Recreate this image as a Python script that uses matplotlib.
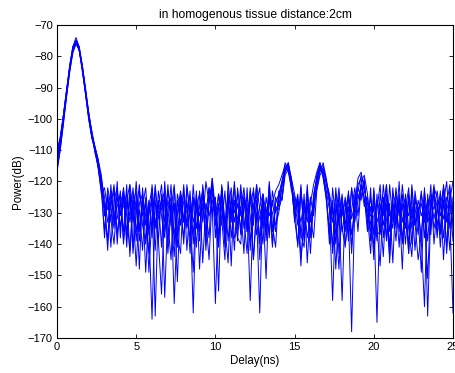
import numpy as np
import matplotlib
matplotlib.use("Agg")
import matplotlib.pyplot as plt

# delay axis, 0..25 ns sampled every 0.2 ns
delay_ns = np.linspace(0, 25, 126)

trace_1 = [-112, -107, -99, -91, -83, -77, -75, -78, -84, -92,
           -99, -105, -109, -114, -120, -131, -124, -141, -126, -122,
           -135, -125, -138, -121, -129, -147, -127, -124, -139, -130,
           -125, -163, -128, -121, -136, -126, -131, -144, -124, -129,
           -138, -122, -130, -126, -141, -123, -133, -120, -127, -119,
           -129, -137, -121, -133, -125, -128, -142, -122, -131, -126,
           -136, -124, -134, -121, -129, -140, -125, -131, -127, -123,
           -121, -118, -115, -117, -122, -131, -126, -138, -124, -146,
           -127, -121, -117, -114, -118, -126, -135, -128, -140, -124,
           -131, -125, -137, -129, -122, -131, -120, -118, -124, -134,
           -128, -139, -124, -131, -121, -136, -127, -133, -125, -140,
           -129, -122, -135, -126, -131, -123, -138, -127, -124, -132,
           -126, -136, -121, -129, -142, -125]
trace_2 = [-115, -109, -101, -92, -84, -78, -75, -77, -83, -91,
           -98, -104, -110, -115, -122, -127, -142, -123, -133, -128,
           -124, -139, -127, -131, -122, -136, -129, -142, -125, -149,
           -131, -126, -139, -124, -157, -129, -125, -137, -130, -123,
           -132, -127, -143, -125, -129, -136, -124, -130, -122, -128,
           -159, -127, -134, -123, -139, -126, -130, -124, -137, -128,
           -125, -131, -145, -127, -122, -135, -128, -138, -123, -130,
           -126, -120, -114, -116, -121, -127, -141, -124, -130, -128,
           -137, -124, -119, -115, -117, -123, -129, -158, -127, -132,
           -124, -136, -128, -141, -126, -121, -119, -126, -132, -125,
           -137, -126, -130, -144, -124, -129, -135, -122, -131, -127,
           -140, -126, -132, -128, -137, -124, -130, -151, -126, -129,
           -123, -131, -127, -120, -135, -128]
trace_3 = [-113, -108, -100, -92, -84, -77, -74, -77, -83, -90,
           -98, -105, -110, -114, -119, -125, -133, -128, -121, -137,
           -127, -123, -131, -142, -124, -128, -135, -126, -149, -128,
           -122, -134, -127, -129, -125, -140, -126, -159, -131, -124,
           -127, -135, -129, -162, -126, -131, -124, -139, -127, -121,
           -134, -128, -124, -141, -129, -122, -133, -127, -135, -125,
           -129, -158, -127, -126, -139, -124, -130, -136, -126, -134,
           -130, -122, -116, -114, -119, -124, -130, -147, -127, -133,
           -125, -131, -120, -115, -116, -121, -127, -133, -124, -143,
           -129, -127, -131, -168, -128, -123, -118, -121, -129, -136,
           -126, -133, -129, -125, -138, -127, -146, -124, -130, -129,
           -125, -143, -128, -134, -126, -131, -127, -139, -125, -135,
           -129, -124, -138, -127, -131, -162]
trace_4 = [-111, -106, -99, -91, -84, -78, -76, -78, -84, -91,
           -99, -106, -109, -113, -121, -129, -126, -132, -140, -125,
           -130, -128, -124, -133, -126, -139, -123, -131, -127, -135,
           -164, -127, -130, -126, -133, -123, -129, -127, -141, -126,
           -133, -129, -125, -133, -128, -124, -146, -127, -131, -126,
           -131, -124, -129, -135, -123, -138, -126, -132, -129, -122,
           -133, -127, -123, -137, -131, -126, -133, -124, -141, -127,
           -124, -126, -117, -115, -123, -125, -128, -133, -126, -138,
           -131, -128, -121, -116, -115, -120, -124, -130, -137, -126,
           -136, -129, -124, -132, -127, -119, -117, -123, -127, -131,
           -131, -165, -127, -134, -125, -131, -128, -139, -124, -133,
           -127, -131, -126, -142, -129, -127, -133, -126, -128, -124,
           -134, -127, -132, -125, -128, -133]
trace_5 = [-116, -110, -101, -93, -85, -78, -75, -78, -84, -92,
           -100, -106, -110, -116, -123, -136, -122, -128, -135, -123,
           -131, -122, -137, -124, -143, -130, -121, -134, -140, -127,
           -135, -122, -139, -156, -124, -133, -121, -140, -126, -134,
           -121, -142, -127, -137, -123, -148, -127, -136, -122, -130,
           -125, -155, -122, -140, -126, -133, -120, -138, -140, -124,
           -136, -122, -145, -130, -162, -124, -136, -121, -140, -125,
           -128, -121, -115, -115, -120, -129, -124, -137, -141, -123,
           -133, -126, -118, -114, -119, -125, -140, -122, -133, -148,
           -127, -134, -123, -143, -124, -136, -121, -128, -125, -139,
           -122, -137, -136, -121, -132, -144, -124, -127, -136, -121,
           -131, -140, -122, -133, -145, -137, -123, -131, -135, -122,
           -125, -141, -126, -141, -122, -130]
trace_6 = [-114, -108, -100, -92, -84, -78, -75, -78, -83, -91,
           -98, -105, -111, -115, -124, -122, -129, -126, -130, -132,
           -123, -140, -126, -121, -141, -125, -148, -122, -134, -126,
           -138, -121, -132, -127, -123, -143, -129, -121, -137, -143,
           -122, -134, -123, -140, -126, -139, -121, -132, -145, -124,
           -126, -140, -122, -134, -146, -124, -138, -135, -121, -132,
           -143, -123, -129, -124, -140, -127, -151, -122, -136, -128,
           -129, -125, -116, -116, -119, -133, -125, -144, -135, -121,
           -138, -128, -122, -117, -114, -119, -126, -141, -122, -134,
           -125, -140, -133, -122, -131, -124, -126, -119, -134, -128,
           -145, -129, -121, -138, -127, -141, -122, -133, -127, -148,
           -124, -135, -144, -125, -129, -139, -122, -163, -129, -121,
           -137, -128, -122, -143, -126, -120]
trace_7 = [-110, -106, -99, -91, -83, -77, -75, -77, -84, -91,
           -99, -104, -109, -113, -118, -128, -139, -121, -133, -120,
           -138, -122, -141, -125, -133, -120, -136, -125, -131, -143,
           -121, -135, -126, -141, -120, -133, -145, -122, -137, -126,
           -140, -121, -131, -149, -124, -136, -122, -130, -138, -119,
           -132, -141, -122, -137, -125, -147, -121, -134, -128, -143,
           -122, -139, -131, -121, -145, -128, -137, -120, -134, -141,
           -124, -120, -117, -114, -120, -132, -140, -122, -137, -127,
           -143, -125, -119, -116, -118, -124, -137, -126, -148, -129,
           -158, -126, -139, -122, -133, -126, -121, -125, -136, -122,
           -142, -124, -137, -129, -121, -146, -126, -135, -120, -139,
           -126, -143, -121, -134, -128, -139, -160, -124, -137, -122,
           -138, -123, -145, -127, -121, -135]
trace_8 = [-117, -110, -102, -93, -85, -79, -76, -78, -85, -92,
           -100, -106, -110, -115, -121, -138, -124, -133, -122, -140,
           -126, -136, -121, -144, -127, -123, -139, -128, -122, -137,
           -125, -142, -123, -131, -138, -121, -134, -127, -152, -124,
           -133, -126, -139, -121, -135, -128, -123, -142, -126, -121,
           -138, -124, -132, -145, -120, -131, -126, -139, -123, -135,
           -127, -142, -122, -133, -128, -124, -139, -126, -130, -136,
           -123, -126, -118, -116, -121, -126, -134, -121, -139, -125,
           -131, -138, -123, -118, -116, -120, -125, -143, -131, -122,
           -135, -141, -124, -137, -129, -122, -125, -120, -131, -143,
           -123, -135, -147, -125, -139, -121, -133, -126, -141, -124,
           -135, -124, -140, -123, -131, -149, -126, -133, -121, -140,
           -128, -137, -122, -133, -125, -139]

traces = [trace_1, trace_2, trace_3, trace_4, trace_5, trace_6, trace_7, trace_8]

plt.rcParams['font.family'] = ['Liberation Sans', 'DejaVu Sans']
plt.rcParams['font.size'] = 8

fig = plt.figure(figsize=(4.55, 3.73), dpi=100)
ax = fig.add_axes([57 / 455, 35 / 373, 396 / 455, 313 / 373])

for tr in traces:
    ax.plot(delay_ns, tr, color=(0, 0, 1), linewidth=0.7)

ax.set_xlim(0, 25)
ax.set_ylim(-170, -70)
ax.set_xticks([0, 5, 10, 15, 20, 25])
ax.set_yticks(np.arange(-170, -69, 10))
ax.tick_params(direction="in", top=True, right=True, length=3, width=0.6, pad=3)
for sp in ax.spines.values():
    sp.set_linewidth(0.8)

ax.set_title("in homogenous tissue distance:2cm", fontsize=8.7, pad=5)
ax.set_xlabel("Delay(ns)", fontsize=8.3, labelpad=2)
ax.set_ylabel("Power(dB)", fontsize=8.3, labelpad=3)

fig.savefig("out.png", dpi=100)
